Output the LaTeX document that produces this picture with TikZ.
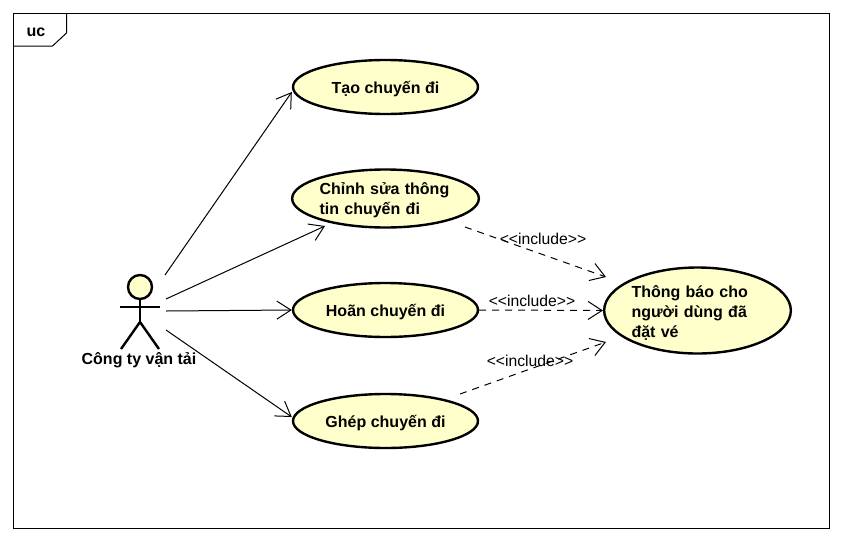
\documentclass[tikz,border=0pt]{standalone}
\usepackage{fontspec}
\setmainfont{Liberation Sans}
\usepackage{xcolor}
\usetikzlibrary{arrows.meta,shapes.geometric}
\definecolor{ucfill}{HTML}{FFFFCC}
\tikzset{
    usecase/.style={ellipse, draw, line width=2.4pt, fill=ucfill, minimum width=185pt, inner sep=0pt, align=left,
        font=\fontsize{16}{20}\selectfont\bfseries, execute at begin node={\rule{0pt}{16pt}}},
    assoc/.style={-{Straight Barb[length=14pt,width=18pt]}, line width=1pt},
    incl/.style={assoc, dash pattern=on 7pt off 6pt},
    stereo/.style={inner sep=0pt, font=\fontsize{15.7}{18}\selectfont},
    stick/.style={line width=2.4pt}
}

\begin{document}
\begin{tikzpicture}[x=1pt,y=-1pt]
    \useasboundingbox (0,0) rectangle (842,541);

    % Frame
    \draw[line width=1pt] (13.5,13.5) rectangle (829.5,528.5);
    \draw[line width=1pt] (13.5,46) -- (52.5,46) -- (66.5,33) -- (66.5,13.5);
    \node[font=\fontsize{16}{18}\selectfont\bfseries] (frametag) at (36,32) {uc};

    % Use cases
    \node[usecase, minimum height=54pt] (tao) at (385.5,87) {Tạo chuyến đi};
    \node[usecase, minimum height=58pt, text width=132pt] (chinh) at (385.5,198.5) {Chỉnh sửa thông\\tin chuyến đi};
    \node[usecase, minimum height=54pt] (hoan) at (385.5,310) {Hoãn chuyến đi};
    \node[usecase, minimum height=54pt] (ghep) at (385.5,421) {Ghép chuyến đi};
    \node[usecase, minimum height=86pt, text width=132pt] (thong) at (697.5,310.5) {Thông báo cho\\người dùng đã\\đặt vé};

    % Actor
    \node[circle, draw, line width=2.4pt, fill=ucfill, minimum size=24pt, inner sep=0pt] (head) at (140,287) {};
    \coordinate (hip) at (140,322);
    \draw[stick] (head.south) -- (hip);
    \draw[stick] (120,307) -- (160,307);
    \draw[stick] (121,349) -- (hip) -- (159,349);
    \node[font=\fontsize{16}{18}\selectfont\bfseries] (actor) at (139,360.5) {Công ty vận tải};

    % Free ends
    \coordinate (a1) at (165,275);
    \coordinate (a2) at (166,299);
    \coordinate (a3) at (166,311);
    \coordinate (a4) at (166,330);
    \coordinate (c1) at (325,226);
    \coordinate (s1) at (465,227);
    \coordinate (s3) at (460,394);
    \coordinate (t1) at (606,277);
    \coordinate (t3) at (606,342);

    % Associations
    \draw[assoc] (a1) -- (tao.west |- 0,92);
    \draw[assoc] (a2) -- (c1);
    \draw[assoc] (a3) -- (hoan.west);
    \draw[assoc] (a4) -- (ghep.west |- 0,417);

    % Includes
    \draw[incl] (s1) -- (t1);
    \draw[incl] (hoan.east) -- (thong.west);
    \draw[incl] (s3) -- (t3);
    \node[stereo] (inc1) at (543,239) {<{}<include>{}>};
    \node[stereo] (inc2) at (532,301) {<{}<include>{}>};
    \node[stereo] (inc3) at (530,361) {<{}<include>{}>};
\end{tikzpicture}
\end{document}
